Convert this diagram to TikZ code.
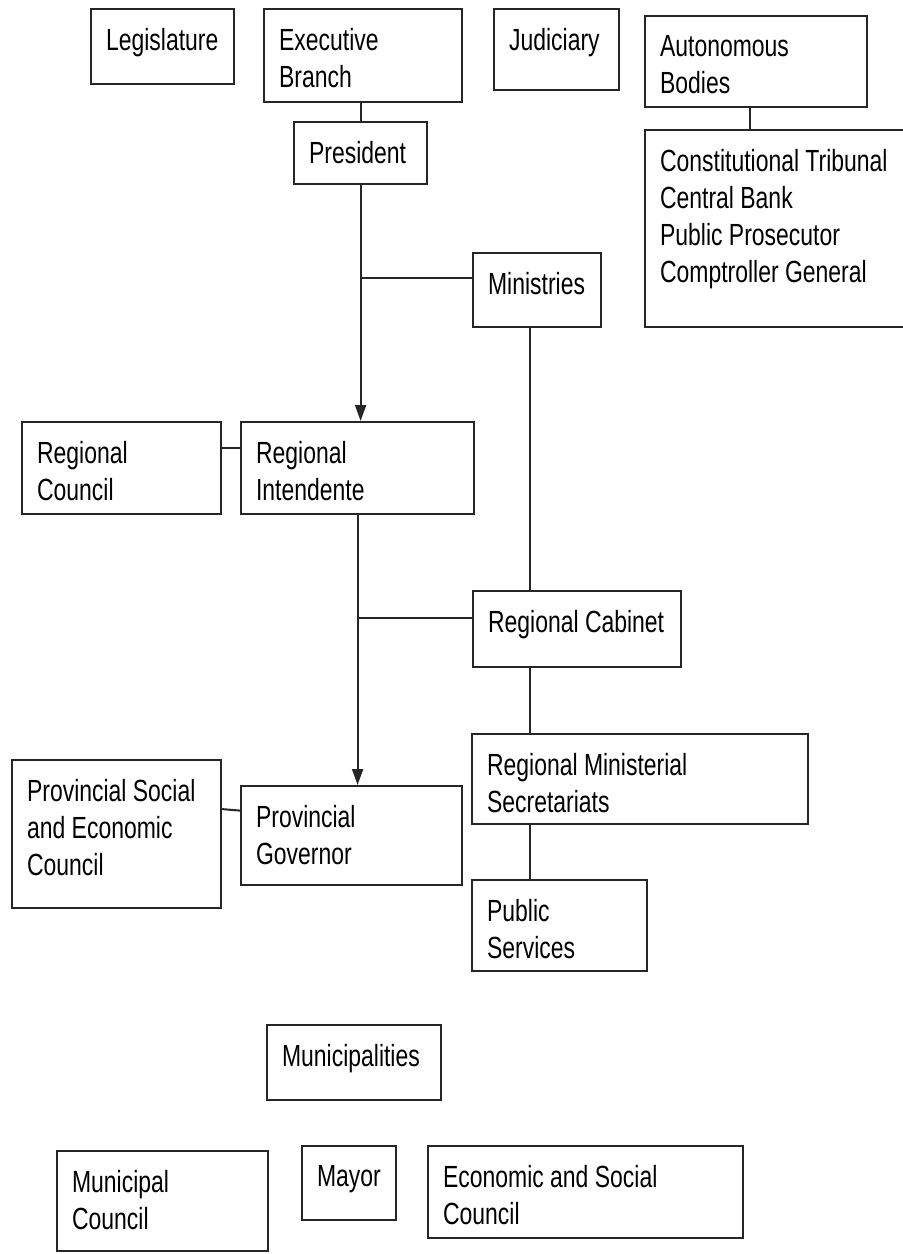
\documentclass[tikz,border=0pt]{standalone}
\usepackage{fontspec}
\setmainfont{Liberation Sans}[FakeStretch=0.75]
\usetikzlibrary{arrows.meta}
\newcommand{\boxtext}[3]{\parbox[c][\dimexpr #2pt/2-19pt\relax][t]{\dimexpr #1pt/2-15pt\relax}{#3}}

\begin{document}
\begin{tikzpicture}[x=.5pt,y=-.5pt,
  orgbox/.style={draw=black!85,line width=1.1pt,anchor=north west,
    inner xsep=7.5pt,inner ysep=9.5pt,font=\fontsize{15.3pt}{18.5pt}\selectfont},
  link/.style={draw=black!85,line width=1pt},
  down/.style={link,-{Triangle[length=8pt,width=5.5pt]}}]
  \useasboundingbox (0,0) rectangle (902,1254);
  \node[orgbox] (leg) at (90,8) {\boxtext{143}{75}{Legislature}};
  \node[orgbox] (exec) at (263,8) {\boxtext{198}{93}{Executive\\Branch}};
  \node[orgbox] (jud) at (493,8) {\boxtext{125}{81}{Judiciary}};
  \node[orgbox] (auto) at (644,15) {\boxtext{222}{91}{Autonomous\\Bodies}};
  \node[orgbox] (bodies) at (644,129) {\boxtext{268}{197}{Constitutional Tribunal\\Central Bank\\Public Prosecutor\\Comptroller General}};
  \node[orgbox] (pres) at (293,121) {\boxtext{133}{62}{President}};
  \node[orgbox] (min) at (472,252) {\boxtext{128}{74}{Ministries}};
  \node[orgbox] (rcoun) at (21,421) {\boxtext{199}{92}{Regional\\Council}};
  \node[orgbox] (rint) at (240,421) {\boxtext{233}{92}{Regional\\Intendente}};
  \node[orgbox] (rcab) at (472,590) {\boxtext{208}{76}{Regional Cabinet}};
  \node[orgbox] (rmin) at (471,733) {\boxtext{336}{90}{Regional Ministerial\\Secretariats}};
  \node[orgbox] (psec) at (11,759) {\boxtext{209}{148}{Provincial Social\\and Economic\\Council}};
  \node[orgbox] (pgov) at (240,785) {\boxtext{221}{99}{Provincial\\Governor}};
  \node[orgbox] (pub) at (471,879) {\boxtext{175}{91}{Public\\Services}};
  \node[orgbox] (muni) at (266,1024) {\boxtext{174}{75}{Municipalities}};
  \node[orgbox] (mcoun) at (56,1150) {\boxtext{211}{100}{Municipal\\Council}};
  \node[orgbox] (mayor) at (301,1145) {\boxtext{94}{74}{Mayor}};
  \node[orgbox] (esc) at (427,1145) {\boxtext{315}{92}{Economic and Social\\Council}};

  \coordinate (spine) at (530,0);
  \draw[link] (exec.south -| pres.north) -- (pres.north);
  \draw[down] (pres.south) -- (pres.south |- rint.north);
  \draw[link] ([yshift=6pt]min.west) -- ([yshift=6pt]min.west -| pres.south);
  \draw[link] ([xshift=-3pt]auto.south) -- ([xshift=-3pt]auto.south |- bodies.north);
  \draw[link] (min.south -| spine) -- (rcab.north -| spine);
  \draw[link] (rcab.south -| spine) -- (rmin.north -| spine);
  \draw[link] (rmin.south -| spine) -- (pub.north -| spine);
  \draw[link] ([yshift=10pt]rcoun.east) -- ([yshift=10pt]rint.west);
  \draw[down] (rint.south) -- (rint.south |- pgov.north);
  \draw[link] ([yshift=5.5pt]rcab.west) -- ([yshift=5.5pt]rcab.west -| rint.south);
  \draw[link] ([yshift=12.5pt]psec.east) -- ([yshift=12.5pt]pgov.west);
\end{tikzpicture}
\end{document}
